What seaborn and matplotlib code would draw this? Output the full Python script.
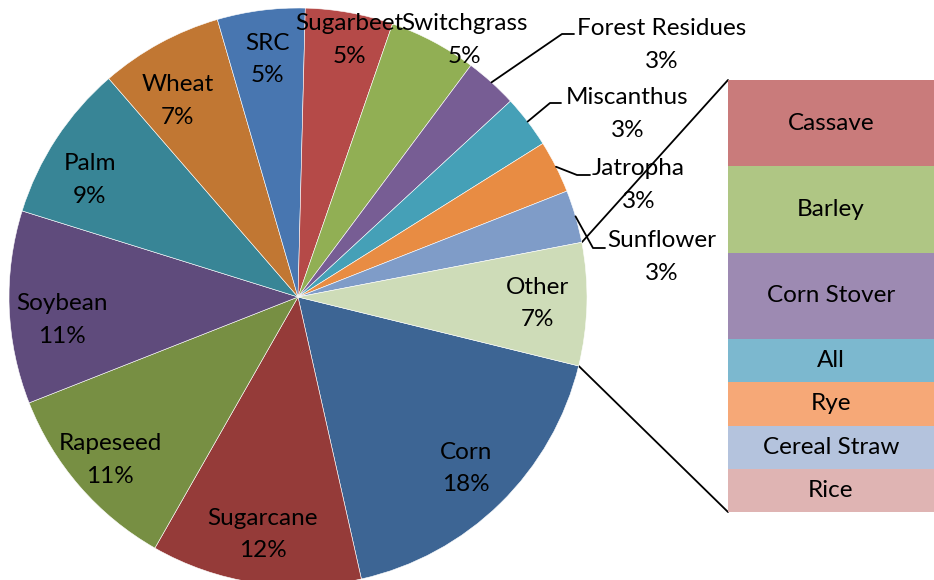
import numpy as np
import matplotlib
matplotlib.use('Agg')
import matplotlib.pyplot as plt
import seaborn as sns

# pie data (percent, clockwise from Corn)
crops = ['Corn', 'Sugarcane', 'Rapeseed', 'Soybean', 'Palm', 'Wheat', 'SRC',
         'Sugarbeet', 'Switchgrass', 'Forest Residues', 'Miscanthus',
         'Jatropha', 'Sunflower', 'Other']
shares = [18, 12, 11, 11, 9, 7, 5, 5, 5, 3, 3, 3, 3, 7]
pie_colors = ['#3D6594', '#953B39', '#778F43', '#5F4B7C', '#388596', '#C17733',
              '#4876B0', '#B54A48', '#91AF54', '#775D94', '#45A0B7', '#E88C43',
              '#7F9CC8', '#CEDCB8']

# breakdown of "Other" (top to bottom)
other_parts = ['Cassave', 'Barley', 'Corn Stover', 'All', 'Rye', 'Cereal Straw', 'Rice']
other_shares = [1.4, 1.4, 1.4, 0.7, 0.7, 0.7, 0.7]
bar_colors = ['#C97B7B', '#AFC684', '#9D8AB2', '#7CB8CF', '#F6A877', '#B4C3DD', '#DFB4B3']

sns.set_theme(style='white')
plt.rcParams['font.family'] = ['Lato', 'DejaVu Sans']
plt.rcParams['text.color'] = 'black'
FS = 17.5
LS = 1.65

W, H = 934, 580
fig = plt.figure(figsize=(W / 100, H / 100), dpi=100)
ax = fig.add_axes([0, 0, 1, 1])

cx, cy, R = 298, 283, 289
wedges, _ = ax.pie(shares, colors=pie_colors, startangle=-13.8, counterclock=False,
                   radius=R, center=(cx, cy),
                   wedgeprops=dict(edgecolor='white', linewidth=0.4))
ax.set_xlim(0, W)
ax.set_ylim(0, H)
ax.set_aspect('equal')
ax.axis('off')

# labels placed by hand where excel nudged them (pixel coords, y up)
fixed_pos = {'Sugarbeet': (349, 540), 'Switchgrass': (464, 540),
             'Wheat': (178, 479), 'Palm': (90, 400),
             'Soybean': (62, 260), 'Rapeseed': (110, 120)}
# outside labels: (text left x, text center y, elbow start x, elbow y, elbow end x)
outside = {
    'Forest Residues': (577, 535, 562, 546, 574),
    'Miscanthus': (566, 466, 550, 477, 561),
    'Jatropha': (592, 395, 577, 405, 590),
    'Sunflower': (607, 323, 593, 332, 605),
}

total = sum(shares)
for w, name, val in zip(wedges, crops, shares):
    mid = np.deg2rad((w.theta1 + w.theta2) / 2)
    txt = f'{name}\n{round(val / total * 100):.0f}%'
    if name in outside:
        tx, ty, ex, ey, ex2 = outside[name]
        sx, sy = cx + R * np.cos(mid), cy + R * np.sin(mid)
        ax.plot([sx, ex, ex2], [sy, ey, ey], color='black', lw=1.3)
        ax.text(tx, ty, txt, ha='left', va='center', multialignment='center',
                fontsize=FS, linespacing=LS)
        continue
    if name in fixed_pos:
        tx, ty = fixed_pos[name]
    else:
        tx, ty = cx + 0.83 * R * np.cos(mid), cy + 0.83 * R * np.sin(mid)
    ax.text(tx, ty, txt, ha='center', va='center', multialignment='center',
            fontsize=FS, linespacing=LS)

# stacked bar for "Other"
bax = fig.add_axes([728 / W, 68 / H, 206 / W, 432 / H])
bottom = 0
for name, val, col in zip(other_parts[::-1], other_shares[::-1], bar_colors[::-1]):
    bax.bar(0, val, bottom=bottom, width=1, color=col, edgecolor='none')
    bax.text(0, bottom + val / 2, name, ha='center', va='center', fontsize=FS)
    bottom += val
bax.set_xlim(-0.5, 0.5)
bax.set_ylim(0, bottom)
bax.axis('off')

# connector lines from the "Other" slice to the bar
ow = wedges[crops.index('Other')]
inv = ax.transData.inverted()
top_left = inv.transform(bax.transAxes.transform((0, 1)))
bot_left = inv.transform(bax.transAxes.transform((0, 0)))
for ang, end in [(ow.theta2, top_left), (ow.theta1, bot_left)]:
    a = np.deg2rad(ang)
    ax.plot([cx + R * np.cos(a), end[0]], [cy + R * np.sin(a), end[1]],
            color='black', lw=1.3, zorder=0)

fig.savefig('out.png', dpi=100)
